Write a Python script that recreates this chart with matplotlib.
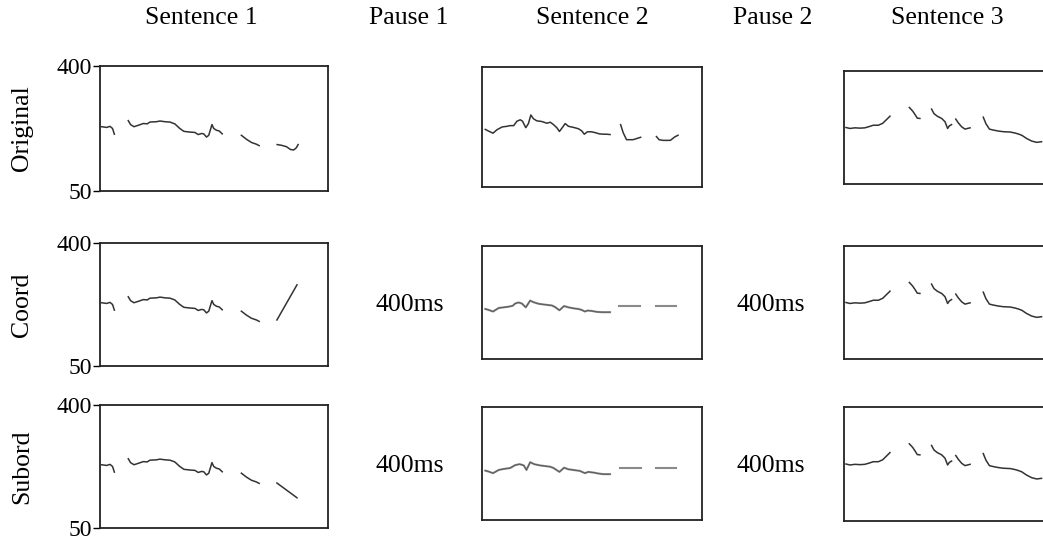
import matplotlib
matplotlib.use("Agg")
import matplotlib.pyplot as plt

plt.rcParams['font.family'] = ['Liberation Serif', 'DejaVu Serif']

# ---------------- data ----------------
column_titles = ["Sentence 1", "Pause 1", "Sentence 2", "Pause 2", "Sentence 3"]
row_labels = ["Original", "Coord", "Subord"]
pause_text = "400ms"
y_ticks = [50, 400]

# Sentence 1 (shared segments), x = fraction of sentence duration, y = F0 (Hz)
s1_seg1_x = [0.007, 0.029, 0.044, 0.055, 0.063]
s1_seg1_y = [230, 228, 231, 225, 209]
s1_seg2_x = [0.124, 0.134, 0.149, 0.168, 0.190, 0.207, 0.219, 0.248, 0.263, 0.285,
             0.307, 0.328, 0.350, 0.368, 0.394, 0.416, 0.431, 0.445, 0.455, 0.467,
             0.477, 0.485, 0.491, 0.499, 0.511, 0.523, 0.536]
s1_seg2_y = [247, 236, 230, 234, 239, 238, 243, 244, 246, 244,
             243, 238, 225, 217, 215, 214, 208, 211, 210, 201,
             206, 223, 236, 225, 220, 218, 210]
s1_seg3_x = [0.620, 0.642, 0.664, 0.686, 0.698]
s1_seg3_y = [206, 195, 186, 181, 177]
# Sentence 1, final word per condition
s1_orig_last_x = [0.777, 0.796, 0.818, 0.836, 0.850, 0.861, 0.869]
s1_orig_last_y = [180, 178, 174, 166, 165, 171, 180]
s1_coord_last_x = [0.776, 0.864]
s1_coord_last_y = [181, 281]
s1_sub_last_x = [0.776, 0.864]
s1_sub_last_y = [178, 136]

# Sentence 2, original
s2_orig_seg1_x = [0.015, 0.030, 0.050, 0.068, 0.091, 0.113, 0.128, 0.144, 0.159, 0.174,
                  0.184, 0.199, 0.211, 0.222, 0.234, 0.249, 0.272, 0.295, 0.310, 0.325,
                  0.340, 0.352, 0.367, 0.378, 0.393, 0.415, 0.438, 0.453, 0.465, 0.479,
                  0.498, 0.518, 0.533, 0.551, 0.566, 0.582]
s2_orig_seg1_y = [218, 213, 207, 217, 225, 227, 229, 229, 242, 246,
                  242, 223, 235, 260, 249, 243, 241, 236, 239, 232,
                  223, 212, 225, 235, 227, 224, 220, 214, 204, 211,
                  211, 208, 205, 204, 204, 203]
s2_orig_seg2_x = [0.630, 0.642, 0.657, 0.687, 0.721]
s2_orig_seg2_y = [232, 208, 188, 188, 195]
s2_orig_seg3_x = [0.793, 0.805, 0.823, 0.856, 0.876, 0.891]
s2_orig_seg3_y = [197, 188, 186, 186, 196, 201]

# Sentence 2, resynthesised (Coord / Subord)
s2_coord_x = [0.015, 0.030, 0.050, 0.076, 0.098, 0.121, 0.140, 0.151, 0.166, 0.181,
              0.199, 0.219, 0.234, 0.257, 0.279, 0.302, 0.317, 0.332, 0.352, 0.373,
              0.393, 0.415, 0.438, 0.453, 0.468, 0.479, 0.498, 0.521, 0.544, 0.582]
s2_coord_y = [205, 202, 197, 208, 210, 212, 215, 222, 225, 222,
              210, 231, 226, 221, 219, 217, 216, 211, 201, 214,
              210, 207, 205, 202, 197, 200, 199, 196, 195, 195]
s2_coord_flat1_x = [0.624, 0.718]
s2_coord_flat2_x = [0.790, 0.881]
s2_coord_flat_y = [214, 214]

s2_sub_x = [0.015, 0.030, 0.050, 0.076, 0.098, 0.128, 0.151, 0.171, 0.190, 0.202,
            0.219, 0.237, 0.264, 0.287, 0.310, 0.325, 0.352, 0.373, 0.393, 0.415,
            0.445, 0.468, 0.483, 0.506, 0.529, 0.551, 0.582]
s2_sub_y = [203, 200, 195, 205, 208, 211, 220, 223, 219, 205,
            229, 223, 219, 217, 215, 211, 199, 212, 207, 205,
            202, 195, 199, 197, 194, 192, 192]
s2_sub_flat1_x = [0.627, 0.721]
s2_sub_flat2_x = [0.790, 0.881]
s2_sub_flat_y = [210, 210]

# Sentence 3 (same in all conditions)
s3_seg1_x = [0.009, 0.027, 0.050, 0.073, 0.095, 0.115, 0.133, 0.156, 0.176, 0.191, 0.209]
s3_seg1_y = [225, 222, 224, 223, 224, 228, 232, 232, 238, 248, 260]
s3_seg2_x = [0.297, 0.312, 0.323, 0.333, 0.345]
s3_seg2_y = [287, 276, 265, 254, 253]
s3_seg3_x = [0.398, 0.409, 0.424, 0.444, 0.459, 0.471, 0.479, 0.489]
s3_seg3_y = [282, 268, 260, 253, 243, 222, 230, 234]
s3_seg4_x = [0.508, 0.520, 0.535, 0.550, 0.573]
s3_seg4_y = [251, 239, 227, 220, 224]
s3_seg5_x = [0.633, 0.645, 0.661, 0.679, 0.702, 0.724, 0.755, 0.777, 0.792, 0.808,
             0.830, 0.853, 0.876, 0.898]
s3_seg5_y = [257, 237, 220, 217, 214, 212, 211, 208, 205, 201, 191, 183, 179, 181]

# ---------------- layout ----------------
W, H = 1043, 537
fig = plt.figure(figsize=(W / 100, H / 100), dpi=100)

col_px = {0: (100, 228), 2: (482, 220), 4: (844, 220)}
row_px = {0: [(66, 191), (243, 366), (405, 528)],
          2: [(67, 187), (246, 359), (407, 520)],
          4: [(71, 184), (246, 359), (407, 521)]}

DARK = '#333333'
GREY = '#8a8a8a'
FS = 18.5

def make_ax(col, row):
    x0, w = col_px[col]
    t, b = row_px[col][row]
    ax = fig.add_axes([x0 / W, 1 - b / H, w / W, (b - t) / H])
    ax.set_xlim(0, 1)
    ax.set_ylim(50, 400)
    for s in ax.spines.values():
        s.set_linewidth(1.3)
        s.set_color('#222222')
    ax.set_xticks([])
    if col == 0:
        ax.set_yticks(y_ticks)
        ax.set_yticklabels([str(v) for v in y_ticks])
        ax.tick_params(axis='y', length=5, width=1.0, labelsize=17, pad=1)
        ax.set_ylabel(row_labels[row], fontsize=FS)
        ax.yaxis.set_label_coords((33 - x0) / w, 0.5)
    else:
        ax.set_yticks([])
    return ax

s1_last = [(s1_orig_last_x, s1_orig_last_y),
           (s1_coord_last_x, s1_coord_last_y),
           (s1_sub_last_x, s1_sub_last_y)]

for r in range(3):
    # Sentence 1
    ax = make_ax(0, r)
    for xs, ys in [(s1_seg1_x, s1_seg1_y), (s1_seg2_x, s1_seg2_y),
                   (s1_seg3_x, s1_seg3_y), s1_last[r]]:
        ax.plot(xs, ys, color=DARK, lw=1.1)

    # Sentence 2
    ax = make_ax(2, r)
    if r == 0:
        for xs, ys in [(s2_orig_seg1_x, s2_orig_seg1_y), (s2_orig_seg2_x, s2_orig_seg2_y),
                       (s2_orig_seg3_x, s2_orig_seg3_y)]:
            ax.plot(xs, ys, color=DARK, lw=1.1)
    else:
        if r == 1:
            cx, cy, f1, f2, fy = s2_coord_x, s2_coord_y, s2_coord_flat1_x, s2_coord_flat2_x, s2_coord_flat_y
        else:
            cx, cy, f1, f2, fy = s2_sub_x, s2_sub_y, s2_sub_flat1_x, s2_sub_flat2_x, s2_sub_flat_y
        ax.plot(cx, cy, color=GREY, lw=1.5)
        ax.plot(cx, cy, color='#555555', lw=0.6)
        ax.plot(f1, fy, color=GREY, lw=1.5)
        ax.plot(f2, fy, color=GREY, lw=1.5)

    # Sentence 3
    ax = make_ax(4, r)
    for xs, ys in [(s3_seg1_x, s3_seg1_y), (s3_seg2_x, s3_seg2_y), (s3_seg3_x, s3_seg3_y),
                   (s3_seg4_x, s3_seg4_y), (s3_seg5_x, s3_seg5_y)]:
        ax.plot(xs, ys, color=DARK, lw=1.1)

# column titles
title_x = [201, 409, 592, 773, 947]
for t, x in zip(column_titles, title_x):
    fig.text(x / W, 1 - 18 / H, t, ha='center', va='center', fontsize=FS)

# pause labels for resynthesised conditions
for r, yc in [(1, 305), (2, 466)]:
    for x in [410, 771]:
        fig.text(x / W, 1 - yc / H, pause_text, ha='center', va='center', fontsize=FS)

fig.savefig('out.png', dpi=100)
